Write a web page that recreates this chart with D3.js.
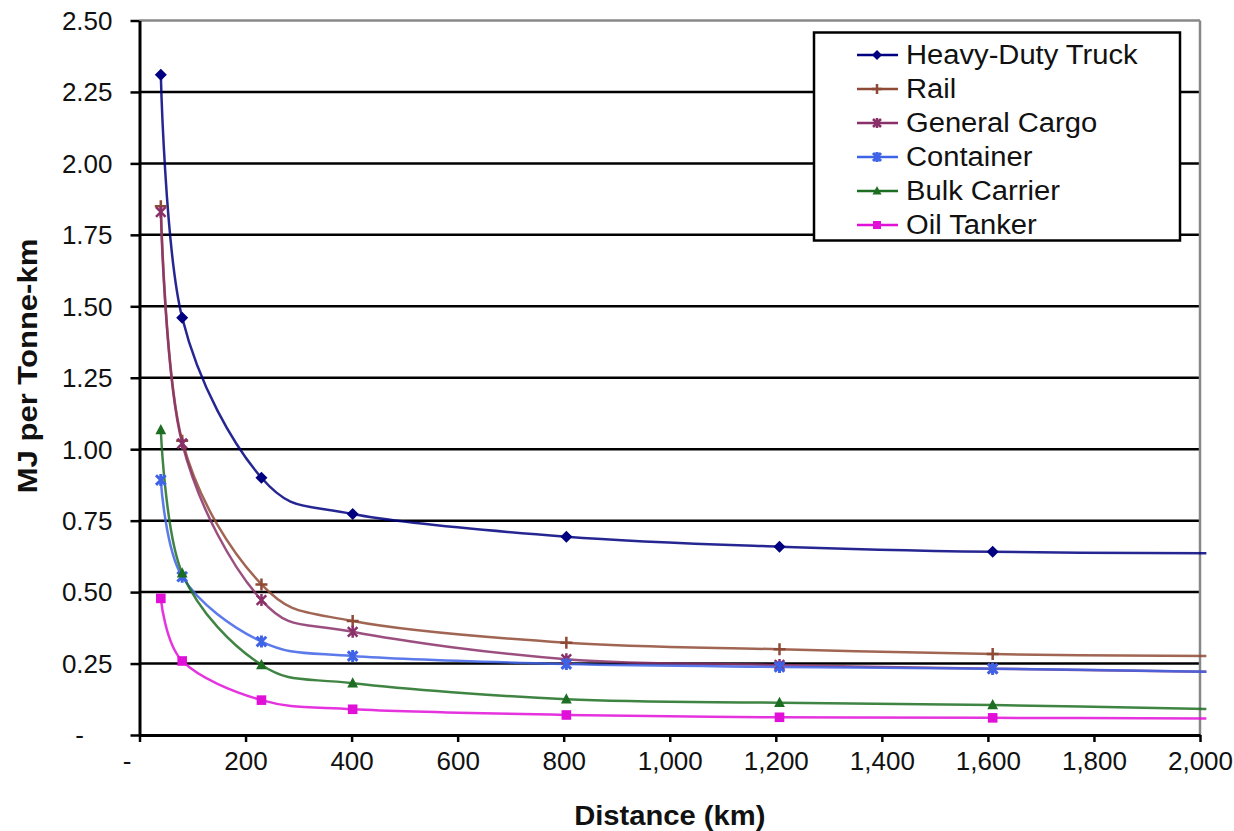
<!DOCTYPE html>
<html>
<head>
<meta charset="utf-8">
<script src="https://cdn.jsdelivr.net/npm/d3@7"></script>
<style>
  body { margin: 0; background: #fff; }
  svg { display: block; font-family: "Liberation Sans", Arial, sans-serif; }
</style>
</head>
<body>
<svg id="chart" width="1234" height="831"></svg>
<script>
// Distance points (km) and energy intensity (MJ per tonne-km) for each mode
const distances = [40.2, 80.5, 230, 402, 805, 1207, 1609, 2012];
const seriesNames = ["Heavy-Duty Truck", "Rail", "General Cargo", "Container", "Bulk Carrier", "Oil Tanker"];
const truckValues     = [2.31, 1.46, 0.900, 0.773, 0.694, 0.659, 0.641, 0.636];
const railValues      = [1.85, 1.03, 0.527, 0.399, 0.323, 0.300, 0.283, 0.276];
const cargoValues     = [1.83, 1.02, 0.472, 0.361, 0.265, 0.245, 0.232, 0.221];
const containerValues = [0.892, 0.554, 0.327, 0.276, 0.248, 0.238, 0.232, 0.221];
const bulkValues      = [1.067, 0.566, 0.245, 0.181, 0.125, 0.113, 0.105, 0.091];
const tankerValues    = [0.478, 0.259, 0.122, 0.090, 0.070, 0.062, 0.060, 0.058];
const xTickValues = [0, 200, 400, 600, 800, 1000, 1200, 1400, 1600, 1800, 2000];
const yTickValues = [0, 0.25, 0.5, 0.75, 1.0, 1.25, 1.5, 1.75, 2.0, 2.25, 2.5];

const seriesColors  = ["#000080", "#8f4a35", "#8a3068", "#3f63e6", "#1d6e22", "#e010d8"];
const seriesMarkers = ["diamond", "plus", "star", "asterisk", "triangle", "square"];
const seriesValues  = [truckValues, railValues, cargoValues, containerValues, bulkValues, tankerValues];

const series = seriesNames.map((name, i) => ({
  name,
  color: seriesColors[i],
  marker: seriesMarkers[i],
  points: distances.map((d, j) => ({ x: d, y: seriesValues[i][j] }))
}));

const svg = d3.select("#chart");
const plot = { left: 139.5, right: 1200, top: 20.5, bottom: 735 };

const x = d3.scaleLinear().domain([0, 2000]).range([plot.left, plot.right]);
const y = d3.scaleLinear().domain([0, 2.5]).range([plot.bottom, plot.top]);

// Horizontal gridlines (the top one doubles as the plot border)
svg.append("g")
  .selectAll("line")
  .data(yTickValues.filter(v => v > 0))
  .join("line")
  .attr("x1", plot.left).attr("x2", plot.right)
  .attr("y1", d => y(d)).attr("y2", d => y(d))
  .attr("stroke", d => d === 2.5 ? "#888" : "#000")
  .attr("stroke-width", 2.5);

// Right plot border
svg.append("line")
  .attr("x1", plot.right).attr("x2", plot.right)
  .attr("y1", plot.top).attr("y2", plot.bottom)
  .attr("stroke", "#888").attr("stroke-width", 2.5);

// Axes
const fmtX = d => d === 0 ? "" : d3.format(",")(d);
const fmtY = d => d === 0 ? "" : d3.format(".2f")(d);

const xAxis = svg.append("g")
  .attr("transform", `translate(0,${plot.bottom})`)
  .call(d3.axisBottom(x).tickValues(xTickValues).tickFormat(fmtX).tickSize(7).tickSizeOuter(0));
const yAxis = svg.append("g")
  .attr("transform", `translate(${plot.left},0)`)
  .call(d3.axisLeft(y).tickValues(yTickValues).tickFormat(fmtY).tickSize(9).tickSizeOuter(0));

[xAxis, yAxis].forEach(g => {
  g.select(".domain").attr("stroke", "#000").attr("stroke-width", 3);
  g.selectAll(".tick line").attr("stroke", "#000").attr("stroke-width", 2.5);
  g.selectAll(".tick text")
    .attr("fill", "#111")
    .style("font-size", "26px")
    .style("font-family", "'Liberation Sans', Arial, sans-serif");
});
xAxis.selectAll(".tick text").attr("y", 27).attr("dy", "0.32em");
yAxis.selectAll(".tick text").attr("x", -27).attr("dy", "0.34em");

// Zero labels shown as dashes (accounting style)
svg.append("text")
  .attr("x", 127).attr("y", plot.bottom + 27).attr("dy", "0.32em")
  .attr("text-anchor", "middle").style("font-size", "26px").attr("fill", "#111")
  .text("-");
svg.append("text")
  .attr("x", 84).attr("y", plot.bottom).attr("dy", "0.34em")
  .attr("text-anchor", "end").style("font-size", "26px").attr("fill", "#111")
  .text("-");

// Axis titles
svg.append("text")
  .attr("transform", `translate(${(plot.left + plot.right) / 2},825) scale(1.08,1)`)
  .attr("text-anchor", "middle")
  .style("font-size", "27px").style("font-weight", "bold").attr("fill", "#111")
  .text("Distance (km)");
svg.append("text")
  .attr("transform", `translate(37,366) rotate(-90) scale(1.15,1)`)
  .attr("text-anchor", "middle")
  .style("font-size", "27px").style("font-weight", "bold").attr("fill", "#111")
  .text("MJ per Tonne-km");

// Marker drawing
function drawMarker(sel, type, color, size) {
  const s = size;
  if (type === "diamond") {
    sel.append("path").attr("d", `M0,${-s}L${s},0L0,${s}L${-s},0Z`).attr("fill", color);
  } else if (type === "square") {
    sel.append("rect").attr("x", -s * 0.8).attr("y", -s * 0.8)
      .attr("width", s * 1.6).attr("height", s * 1.6).attr("fill", color);
  } else if (type === "triangle") {
    sel.append("path").attr("d", `M0,${-s}L${s * 0.9},${s * 0.7}L${-s * 0.9},${s * 0.7}Z`).attr("fill", color);
  } else if (type === "plus") {
    sel.append("path").attr("d", `M${-s},0L${s},0M0,${-s}L0,${s}`)
      .attr("stroke", color).attr("stroke-width", 2.5);
  } else if (type === "star" || type === "asterisk") {
    const k = s * 0.8;
    sel.append("path").attr("d", `M${-k},${-k}L${k},${k}M${-k},${k}L${k},${-k}M0,${-s}L0,${s}`)
      .attr("stroke", color).attr("stroke-width", type === "asterisk" ? 3 : 2.5);
  }
}

// Smoothed series lines (uniform Catmull-Rom, like spreadsheet smoothing)
const line = d3.line()
  .x(d => x(d.x)).y(d => y(d.y))
  .curve(d3.curveCardinal.tension(0));

const seriesG = svg.append("g");
series.forEach(s => {
  seriesG.append("path")
    .datum(s.points)
    .attr("fill", "none")
    .attr("stroke", s.color)
    .attr("stroke-width", 2.5)
    .attr("stroke-opacity", 0.85)
    .attr("d", line);
});

// Markers (omitted on the final extension point)
series.forEach(s => {
  s.points.slice(0, -1).forEach(p => {
    const g = seriesG.append("g").attr("transform", `translate(${x(p.x)},${y(p.y)})`);
    drawMarker(g, s.marker, s.color, 6);
  });
});

// Legend
const legend = svg.append("g");
legend.append("rect")
  .attr("x", 814).attr("y", 32.5).attr("width", 366).attr("height", 208)
  .attr("fill", "#fff").attr("stroke", "#000").attr("stroke-width", 2.5);

const legendRow = d3.scaleLinear().domain([0, 5]).range([55, 225]);
series.forEach((s, i) => {
  const ry = legendRow(i);
  legend.append("line")
    .attr("x1", 857).attr("x2", 898).attr("y1", ry).attr("y2", ry)
    .attr("stroke", s.color).attr("stroke-width", 2.5);
  const g = legend.append("g").attr("transform", `translate(877,${ry})`);
  drawMarker(g, s.marker, s.color, 5);
  legend.append("text")
    .attr("transform", `translate(906,${ry}) scale(1.08,1)`)
    .attr("dy", "0.35em")
    .style("font-size", "27px").attr("fill", "#111")
    .text(s.name);
});
</script>
</body>
</html>
